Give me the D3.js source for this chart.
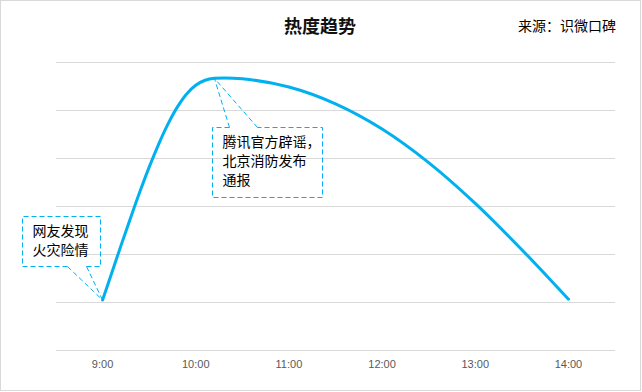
<!DOCTYPE html>
<html>
<head>
<meta charset="utf-8">
<script src="https://cdn.jsdelivr.net/npm/d3@7"></script>
<style>
  body { margin: 0; background: #fff; }
  svg { display: block; font-family: "Noto Sans CJK SC", "Noto Sans", sans-serif; }
</style>
</head>
<body>
<svg id="chart" width="642" height="392"></svg>
<script>
// hours (decimal) and heat values
const hours  = [9, 9.1, 9.2, 9.3, 9.4, 9.5, 9.6, 9.7, 9.8, 9.9, 10, 10.1, 10.2, 10.5, 11, 11.5, 12, 12.5, 13, 13.5, 14];
const values = [20.8, 32.3, 43.8, 55.0, 65.9, 76.2, 85.6, 94.0, 101.1, 106.6, 110.3, 112.4, 113.2, 113.0, 109.6, 102.6, 92.1, 78.1, 61.1, 41.8, 21.2];
const tickHours  = [9, 10, 11, 12, 13, 14];
const tickLabels = ["9:00", "10:00", "11:00", "12:00", "13:00", "14:00"];
const gridValues = [0, 20, 40, 60, 80, 100, 120];
const noteHours  = [9, 10.2];
const noteValues = [20.8, 113.2];
const noteLines  = [["网友发现", "火灾险情"], ["腾讯官方辟谣，", "北京消防发布", "通报"]];

const BLUE = "#00b0f0";
const W = 642, H = 392;
const svg = d3.select("#chart");

svg.append("rect").attr("x", 0.5).attr("y", 0.5).attr("width", W - 2).attr("height", H - 2)
    .attr("fill", "#fff").attr("stroke", "#d9d9d9");

const x = d3.scaleLinear().domain([8.5, 14.5]).range([56, 615]);
const y = d3.scaleLinear().domain([0, 120]).range([350, 62]);

// grid
svg.append("g").selectAll("line").data(gridValues).join("line")
    .attr("x1", 56).attr("x2", 615)
    .attr("y1", d => Math.round(y(d)) + 0.5).attr("y2", d => Math.round(y(d)) + 0.5)
    .attr("stroke", "#d9d9d9");

// x labels
svg.append("g").selectAll("text").data(tickHours).join("text")
    .attr("x", d => x(d)).attr("y", 368)
    .attr("text-anchor", "middle").attr("font-size", 11).attr("fill", "#595959")
    .attr("font-family", "Liberation Sans, Arial, sans-serif")
    .text((d, i) => tickLabels[i]);

// title + source
svg.append("text").attr("x", 320).attr("y", 33).attr("text-anchor", "middle")
    .attr("font-size", 18).attr("font-weight", "bold").attr("fill", "#111").text("热度趋势");
svg.append("text").attr("x", 616).attr("y", 31).attr("text-anchor", "end")
    .attr("font-size", 14).attr("fill", "#000").text("来源：识微口碑");

// line
const line = d3.line().x((d, i) => x(hours[i])).y(d => y(d)).curve(d3.curveCatmullRom.alpha(0.5));
svg.append("path").datum(values).attr("d", line)
    .attr("fill", "none").attr("stroke", BLUE).attr("stroke-width", 3)
    .attr("stroke-linecap", "round").attr("stroke-linejoin", "round");

// callouts
const boxes = [
    { dx: -81, dy: -84, w: 78, h: 50, gap: [45, 64], side: "bottom" },
    { dx: -2, dy: 49, w: 110, h: 70, gap: [17, 45], side: "top" }
];
noteLines.forEach((lines, k) => {
    const px = x(noteHours[k]), py = y(noteValues[k]);
    const b = boxes[k];
    const bx = Math.round(px + b.dx) + 0.5, by = Math.round(py + b.dy) + 0.5;
    const ey = b.side === "bottom" ? by + b.h : by;
    const oy = b.side === "bottom" ? by : by + b.h;
    const pts = [[bx + b.gap[0], ey], [bx, ey], [bx, oy], [bx + b.w, oy], [bx + b.w, ey], [bx + b.gap[1], ey]];
    const g = svg.append("g");
    g.append("path").attr("d", d3.line()(pts))
        .attr("fill", "none").attr("stroke", BLUE).attr("stroke-dasharray", "5,3");
    [0, 1].forEach(j => g.append("line")
        .attr("x1", bx + b.gap[j]).attr("y1", ey).attr("x2", px).attr("y2", py)
        .attr("stroke", BLUE).attr("stroke-dasharray", "5,3"));
    svg.append("g").selectAll("text").data(lines).join("text")
        .attr("x", bx + 10).attr("y", (d, i) => by + 19 + i * 19)
        .attr("font-size", 14).attr("fill", "#000").text(d => d);
});
</script>
</body>
</html>
